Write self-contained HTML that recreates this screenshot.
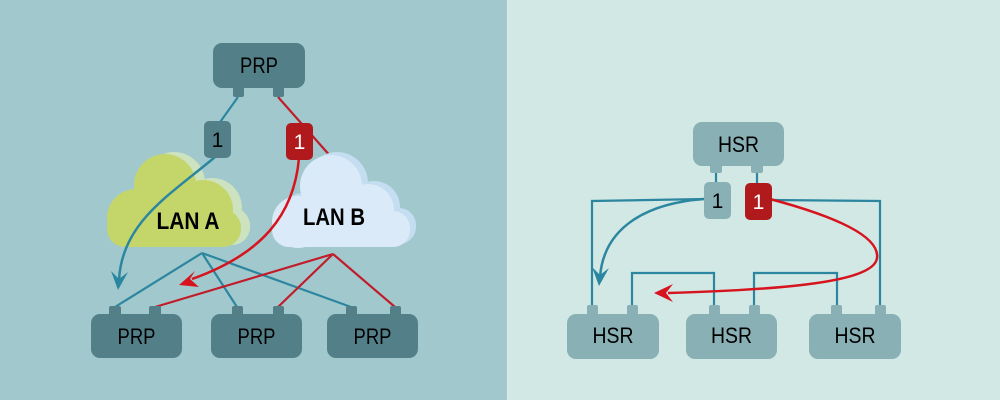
<!DOCTYPE html>
<html>
<head>
<meta charset="utf-8">
<style>
  html, body { margin:0; padding:0; }
  body { width:1000px; height:400px; overflow:hidden; }
  svg { display:block; }
  text { font-family: "Liberation Sans", "DejaVu Sans", sans-serif; }
</style>
</head>
<body>
<svg width="1000" height="400" viewBox="0 0 1000 400" xmlns="http://www.w3.org/2000/svg">
  <!-- backgrounds -->
  <rect x="0" y="0" width="507" height="400" fill="#a1c9cd"/>
  <rect x="507" y="0" width="493" height="400" fill="#d1e8e5"/>
  <rect x="507" y="0" width="1" height="400" fill="#dcefec"/>

  <!-- ===== LEFT PANEL (PRP) ===== -->
  <line x1="238" y1="97" x2="218" y2="125" stroke="#2c86a0" stroke-width="2.2"/>
  <line x1="278" y1="97" x2="332" y2="158" stroke="#c01c2a" stroke-width="2.2"/>

  <!-- Cloud A back -->
  <g fill="#cde2be" transform="translate(9,-2)">
    <circle cx="165" cy="185" r="31"/>
    <circle cx="136" cy="218" r="29"/>
    <circle cx="203" cy="210" r="30"/>
    <circle cx="222" cy="228" r="19"/>
    <rect x="107" y="210" width="134" height="37" rx="18"/>
  </g>
  <!-- Cloud A front -->
  <g fill="#c4d66a">
    <circle cx="165" cy="185" r="31"/>
    <circle cx="136" cy="218" r="29"/>
    <circle cx="203" cy="210" r="30"/>
    <circle cx="222" cy="228" r="19"/>
    <rect x="107" y="210" width="134" height="37" rx="18"/>
  </g>

  <!-- Cloud B back -->
  <g fill="#c4ddf1" transform="translate(6,-3)">
    <circle cx="331" cy="186" r="31"/>
    <circle cx="298" cy="222" r="26"/>
    <circle cx="368" cy="210" r="26"/>
    <circle cx="393" cy="228" r="17"/>
    <rect x="272" y="212" width="138" height="35" rx="17"/>
  </g>
  <!-- Cloud B front -->
  <g fill="#daeaf8">
    <circle cx="331" cy="186" r="31"/>
    <circle cx="298" cy="222" r="26"/>
    <circle cx="368" cy="210" r="26"/>
    <circle cx="393" cy="228" r="17"/>
    <rect x="272" y="212" width="138" height="35" rx="17"/>
  </g>

  <text x="188" y="229" font-size="24" font-weight="bold" text-anchor="middle" textLength="63" lengthAdjust="spacingAndGlyphs" fill="#000">LAN A</text>
  <text x="334" y="225" font-size="24" font-weight="bold" text-anchor="middle" textLength="62" lengthAdjust="spacingAndGlyphs" fill="#000">LAN B</text>

  <!-- LAN A fan-out (teal) -->
  <g stroke="#2c86a0" stroke-width="2.2" fill="none">
    <line x1="202" y1="253" x2="115" y2="307"/>
    <line x1="202" y1="253" x2="237" y2="307"/>
    <line x1="202" y1="253" x2="351" y2="307"/>
  </g>
  <!-- LAN B fan-out (red) -->
  <g stroke="#c01c2a" stroke-width="2.2" fill="none">
    <line x1="333" y1="254" x2="155" y2="307"/>
    <line x1="333" y1="254" x2="278" y2="307"/>
    <line x1="333" y1="254" x2="395" y2="307"/>
  </g>

  <!-- teal curved arrow -->
  <path d="M 215 157 C 170 195, 122 222, 119 280" stroke="#2c86a0" stroke-width="2.5" fill="none"/>
  <polygon points="118,290 111,271 119,279 128,272" fill="#2a869f"/>

  <!-- red curved arrow -->
  <path d="M 299 158 C 294 215, 262 254, 192 279" stroke="#d7141e" stroke-width="2.5" fill="none"/>
  <polygon points="179,285 195,271 190,279 199,287" fill="#d7141e"/>

  <!-- top PRP -->
  <rect x="213" y="43" width="92" height="45" rx="9" fill="#527f88"/>
  <rect x="233" y="84" width="11" height="13" rx="2" fill="#527f88"/>
  <rect x="273" y="84" width="11" height="13" rx="2" fill="#527f88"/>
  <text x="259" y="73" font-size="22" text-anchor="middle" textLength="38" lengthAdjust="spacingAndGlyphs" fill="#000">PRP</text>

  <!-- badges -->
  <rect x="204" y="121" width="27" height="37" rx="5" fill="#527f88"/>
  <text x="217.5" y="147" font-size="21" text-anchor="middle" fill="#000">1</text>
  <rect x="286" y="123" width="27" height="37" rx="5" fill="#b01a1d"/>
  <text x="299.5" y="149" font-size="21" text-anchor="middle" fill="#fff">1</text>

  <!-- bottom PRP boxes -->
  <g fill="#527f88">
    <rect x="91" y="314" width="91" height="44" rx="9"/>
    <rect x="109" y="306" width="12" height="12" rx="2"/>
    <rect x="149" y="306" width="12" height="12" rx="2"/>

    <rect x="211" y="314" width="91" height="44" rx="9"/>
    <rect x="232" y="306" width="11" height="12" rx="2"/>
    <rect x="273" y="306" width="11" height="12" rx="2"/>

    <rect x="327" y="314" width="91" height="44" rx="9"/>
    <rect x="346" y="306" width="11" height="12" rx="2"/>
    <rect x="390" y="306" width="11" height="12" rx="2"/>
  </g>
  <g font-size="22" text-anchor="middle" fill="#000">
    <text x="136.5" y="344" textLength="38" lengthAdjust="spacingAndGlyphs">PRP</text>
    <text x="256.5" y="344" textLength="38" lengthAdjust="spacingAndGlyphs">PRP</text>
    <text x="372.5" y="344" textLength="38" lengthAdjust="spacingAndGlyphs">PRP</text>
  </g>

  <!-- ===== RIGHT PANEL (HSR) ===== -->
  <g stroke="#2c86a0" stroke-width="2.2" fill="none">
    <line x1="716" y1="172" x2="716" y2="183"/>
    <line x1="757" y1="172" x2="757" y2="184"/>
    <polyline points="705,199 592,201 592,307"/>
    <polyline points="770,200 880,201 880,307"/>
    <polyline points="632,307 632,273 714,273 714,307"/>
    <polyline points="754,307 754,273 837,273 837,307"/>
  </g>

  <!-- teal curve -->
  <path d="M 704 199 C 650 203, 604 225, 600 277" stroke="#2c86a0" stroke-width="2.5" fill="none"/>
  <polygon points="599,286 592,267 600,275 609,268" fill="#2a869f"/>

  <!-- red curve -->
  <path d="M 770 199 C 830 215, 880 235, 877 258 C 874 285, 760 290, 668 293" stroke="#d7141e" stroke-width="2.5" fill="none"/>
  <polygon points="654,293 673,284 666,293 673,302" fill="#d7141e"/>

  <!-- top HSR -->
  <rect x="693" y="122" width="91" height="44" rx="9" fill="#88b0b5"/>
  <rect x="710" y="162" width="12" height="11" rx="2" fill="#88b0b5"/>
  <rect x="751" y="162" width="12" height="11" rx="2" fill="#88b0b5"/>
  <text x="738.5" y="152" font-size="22" text-anchor="middle" textLength="41" lengthAdjust="spacingAndGlyphs" fill="#000">HSR</text>

  <!-- right badges -->
  <rect x="704" y="182" width="27" height="37" rx="5" fill="#88b0b5"/>
  <text x="717.5" y="208" font-size="21" text-anchor="middle" fill="#000">1</text>
  <rect x="745" y="183" width="27" height="37" rx="5" fill="#b01a1d"/>
  <text x="758.5" y="209" font-size="21" text-anchor="middle" fill="#fff">1</text>

  <!-- bottom HSR boxes -->
  <g fill="#88b0b5">
    <rect x="567" y="314" width="92" height="45" rx="9"/>
    <rect x="587" y="305" width="11" height="12" rx="2"/>
    <rect x="627" y="305" width="11" height="12" rx="2"/>

    <rect x="686" y="314" width="91" height="45" rx="9"/>
    <rect x="709" y="305" width="11" height="12" rx="2"/>
    <rect x="749" y="305" width="11" height="12" rx="2"/>

    <rect x="809" y="314" width="92" height="45" rx="9"/>
    <rect x="831" y="305" width="11" height="12" rx="2"/>
    <rect x="875" y="305" width="11" height="12" rx="2"/>
  </g>
  <g font-size="22" text-anchor="middle" fill="#000">
    <text x="613" y="343" textLength="41" lengthAdjust="spacingAndGlyphs">HSR</text>
    <text x="731.5" y="343" textLength="41" lengthAdjust="spacingAndGlyphs">HSR</text>
    <text x="855" y="343" textLength="41" lengthAdjust="spacingAndGlyphs">HSR</text>
  </g>
</svg>
</body>
</html>
